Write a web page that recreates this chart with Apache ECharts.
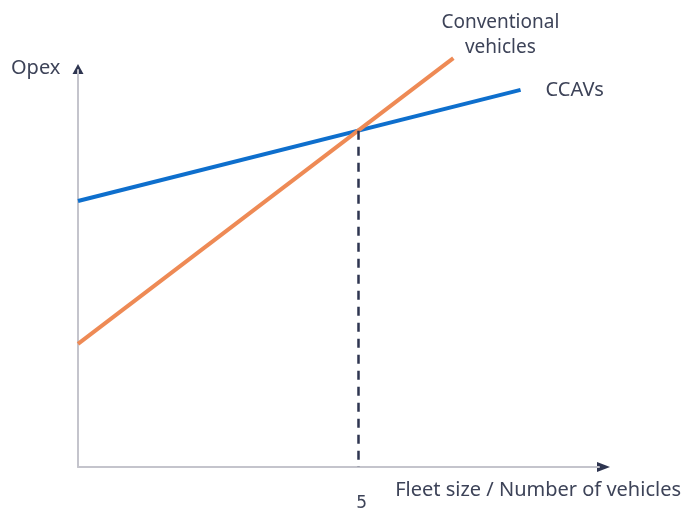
<!DOCTYPE html>
<html>
<head>
<meta charset="utf-8">
<script src="https://cdn.jsdelivr.net/npm/echarts@6/dist/echarts.min.js"></script>
<style>
  html, body { margin: 0; padding: 0; background: #fff; }
  #chart { width: 682px; height: 512px; }
</style>
</head>
<body>
<div id="chart"></div>
<script>
// 数据
const ccavs = [[0, 6.7], [7.9, 9.5]];
const conventional = [[0, 3.1], [6.7, 10.3]];
const breakEven = [5, 8.47];
const xTicks = [5];

const textColor = '#3d4358';
const arrowColor = '#2e3550';
const font = 'Noto Sans';

window.addEventListener('DOMContentLoaded', function() {
    const chart = echarts.init(document.getElementById('chart'));
    const option = {
        animation: false,
        grid: { left: 78, right: 83, top: 70, bottom: 42 },
        xAxis: {
            type: 'value',
            min: 0,
            max: 9.3,
            interval: 5,
            axisLine: { lineStyle: { color: '#c4c4cc', width: 2 } },
            axisTick: { show: false },
            splitLine: { show: false },
            axisLabel: {
                margin: 28,
                fontSize: 17,
                fontFamily: 'DejaVu Sans',
                color: textColor,
                padding: [0, 0, 0, 7],
                formatter: function(v) { return xTicks.indexOf(v) >= 0 ? String(v) : ''; }
            }
        },
        yAxis: {
            type: 'value',
            min: 0,
            max: 10,
            axisLine: { show: true, lineStyle: { color: '#c4c4cc', width: 2 } },
            axisTick: { show: false },
            splitLine: { show: false },
            axisLabel: { show: false }
        },
        series: [
            {
                name: 'CCAVs',
                type: 'line',
                data: ccavs,
                symbol: 'none',
                clip: false,
                lineStyle: { color: '#0e6fcd', width: 4 },
                endLabel: {
                    show: true,
                    formatter: 'CCAVs',
                    distance: 0,
                    offset: [25, 0],
                    fontFamily: font,
                    fontSize: 20,
                    color: textColor
                },
                markLine: {
                    silent: true,
                    symbol: 'none',
                    label: { show: false },
                    lineStyle: { color: arrowColor, width: 2.5, type: [9, 7] },
                    data: [[{ coord: breakEven }, { coord: [breakEven[0], 0] }]]
                }
            },
            {
                name: 'Conventional vehicles',
                type: 'line',
                data: conventional,
                symbol: 'none',
                clip: false,
                lineStyle: { color: '#ee8a55', width: 4 },
                endLabel: {
                    show: true,
                    formatter: 'Conventional\nvehicles',
                    align: 'center',
                    distance: 0,
                    offset: [47, -23],
                    lineHeight: 25,
                    fontFamily: font,
                    fontSize: 19,
                    color: textColor
                }
            }
        ]
    };
    chart.setOption(option);

    // 坐标轴箭头 + 标题
    const origin = chart.convertToPixel({ gridIndex: 0 }, [0, 0]);
    const xEnd = chart.convertToPixel({ gridIndex: 0 }, [9.3, 0]);
    const yEnd = chart.convertToPixel({ gridIndex: 0 }, [0, 10]);
    chart.setOption({
        graphic: [
            {
                type: 'polygon',
                shape: { points: [[xEnd[0] - 2, origin[1] - 5], [xEnd[0] + 11, origin[1]], [xEnd[0] - 2, origin[1] + 5]] },
                style: { fill: arrowColor }
            },
            {
                type: 'polygon',
                shape: { points: [[origin[0] - 5.5, yEnd[1] + 4], [origin[0], yEnd[1] - 6], [origin[0] + 5.5, yEnd[1] + 4]] },
                style: { fill: arrowColor }
            },
            {
                type: 'text',
                left: 11,
                top: yEnd[1] - 12,
                style: { text: 'Opex', fontFamily: font, fontSize: 20, fill: textColor }
            },
            {
                type: 'text',
                right: 1,
                top: origin[1] + 13,
                style: { text: 'Fleet size / Number of vehicles', fontFamily: font, fontSize: 20, fill: textColor }
            }
        ]
    });
});
</script>
</body>
</html>
